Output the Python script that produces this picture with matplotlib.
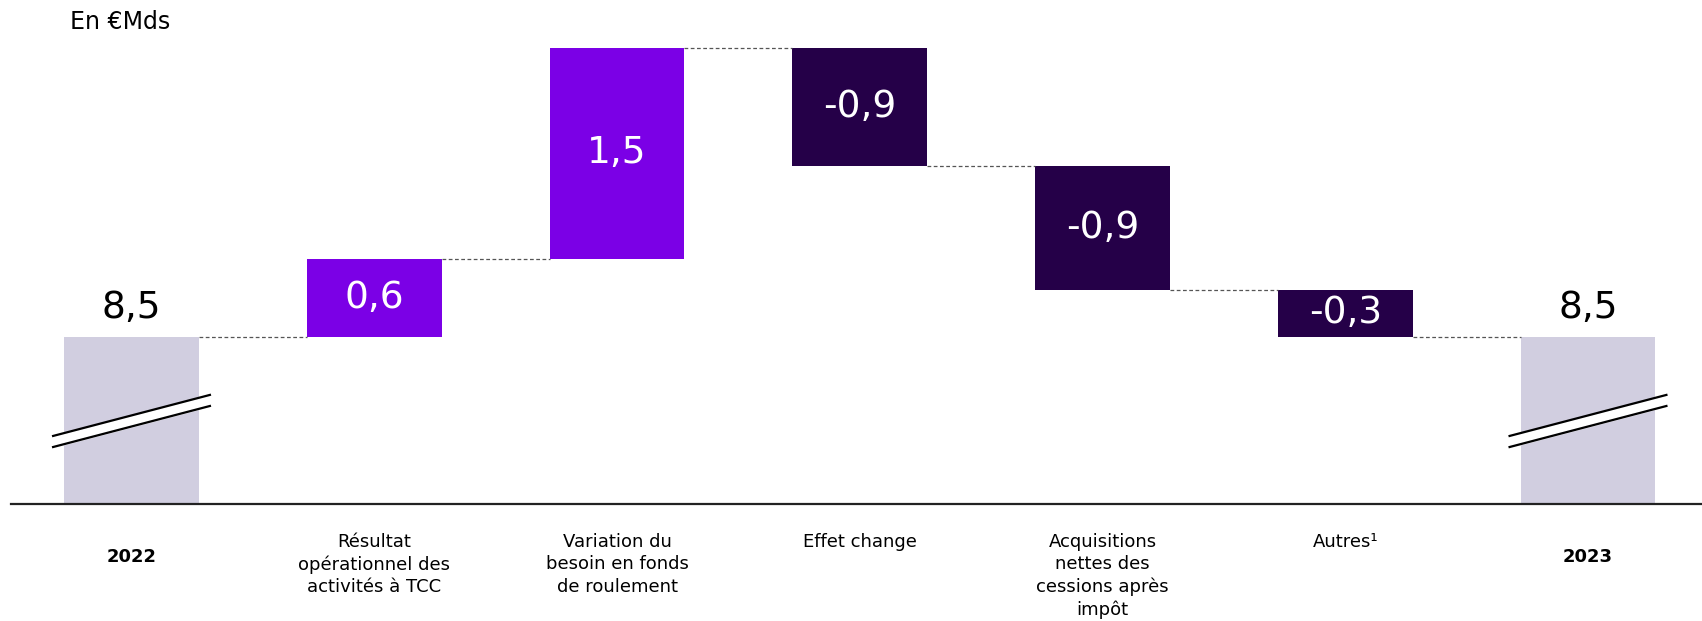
import numpy as np
import matplotlib.pyplot as plt

plt.rcParams['font.family'] = ['DejaVu Sans']

# data
categories = ["2022", "Résultat\nopérationnel des\nactivités à TCC",
              "Variation du\nbesoin en fonds\nde roulement", "Effet change",
              "Acquisitions\nnettes des\ncessions après\nimpôt", "Autres¹", "2023"]
start_value = 8.5
end_value = 8.5
deltas = [0.58, 1.56, -0.87, -0.92, -0.35]
delta_labels = ["0,6", "1,5", "-0,9", "-0,9", "-0,3"]
total_labels = ["8,5", "8,5"]

c_total = "#D1CEE0"
c_up = "#7B00E6"
c_down = "#250048"

fig = plt.figure(figsize=(17.02, 6.21), dpi=100)
ax = fig.add_axes([11 / 1702, 117 / 621, 1691 / 1702, 504 / 621])

w = 0.556
low = 7.263
ax.set_xlim(-0.4964, 6.4696)
ax.set_ylim(low, low + 3.733)

# totals
ax.bar([0, 6], [start_value - low, end_value - low], bottom=low, width=w, color=c_total)
ax.text(0, start_value + 0.085, total_labels[0], ha="center", va="bottom", fontsize=27)
ax.text(6, end_value + 0.085, total_labels[1], ha="center", va="bottom", fontsize=27)

# deltas
level = start_value
levels = [level]
for i, d in enumerate(deltas):
    x = i + 1
    col = c_up if d > 0 else c_down
    ax.bar(x, d, bottom=level, width=w, color=col)
    ax.text(x, level + d / 2, delta_labels[i], ha="center", va="center",
            fontsize=27, color="white")
    level += d
    levels.append(level)

# connectors
for i, lv in enumerate(levels):
    ax.plot([i + w / 2, i + 1 - w / 2], [lv, lv], color="#555555", lw=0.9,
            dashes=(3, 2))

# axis break marks on the total bars
for x in [0, 6]:
    xs = np.array([x - 0.323, x + 0.323])
    lo = low + np.array([0.422, 0.726])
    hi = lo + 0.082
    ax.fill_between(xs, lo, hi, color="white", zorder=3)
    ax.plot(xs, lo, color="black", lw=1.6, zorder=4)
    ax.plot(xs, hi, color="black", lw=1.6, zorder=4)

# category labels
tr = ax.get_xaxis_transform()
for i, lab in enumerate(categories):
    if i in (0, 6):
        ax.text(i, -0.105, lab, transform=tr, ha="center", va="center",
                fontsize=13, fontweight="bold")
    else:
        ax.text(i, -0.058, lab, transform=tr, ha="center", va="top",
                fontsize=13, linespacing=1.3)

for s in ["top", "right", "left"]:
    ax.spines[s].set_visible(False)
ax.spines["bottom"].set_linewidth(1.6)
ax.spines["bottom"].set_color("#222222")
ax.set_xticks([])
ax.set_yticks([])

fig.text(70 / 1702, 1 - 29 / 621, "En €Mds", fontsize=17, ha="left", va="baseline")

fig.savefig("out.png", dpi=100)
